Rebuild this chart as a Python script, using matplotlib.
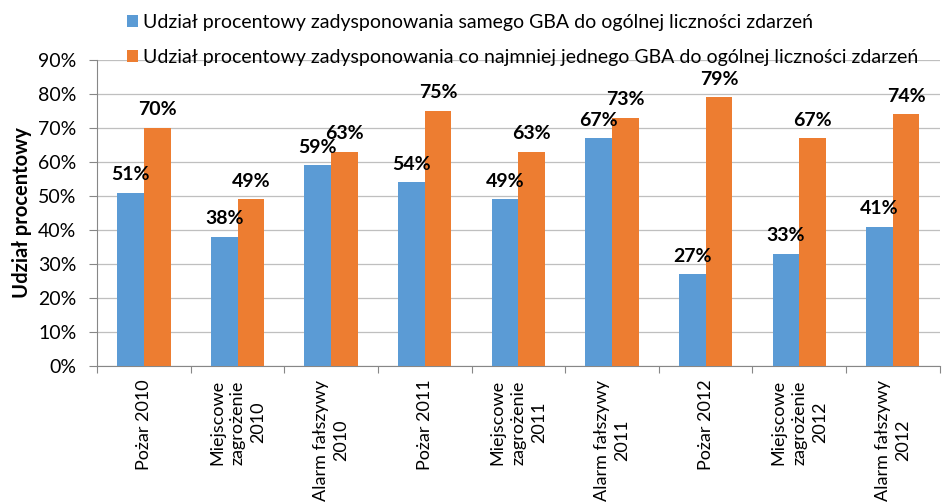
import matplotlib
matplotlib.use("Agg")
import matplotlib.pyplot as plt
import numpy as np

plt.rcParams['font.family'] = ['Lato', 'DejaVu Sans']

categories = ["Pożar 2010", "Miejscowe\nzagrożenie\n2010", "Alarm fałszywy\n2010",
              "Pożar 2011", "Miejscowe\nzagrożenie\n2011", "Alarm fałszywy\n2011",
              "Pożar 2012", "Miejscowe\nzagrożenie\n2012", "Alarm fałszywy\n2012"]
samo_gba = [51, 38, 59, 54, 49, 67, 27, 33, 41]
min_jeden_gba = [70, 49, 63, 75, 63, 73, 79, 67, 74]
series_names = ["Udział procentowy zadysponowania samego GBA do ogólnej liczności zdarzeń",
                "Udział procentowy zadysponowania co najmniej jednego GBA do ogólnej liczności zdarzeń"]

blue = '#5B9BD5'
orange = '#ED7D31'

fig = plt.figure(figsize=(9.52, 5.04), dpi=100)
ax = fig.add_axes([0.102, 0.274, 0.885, 0.607])

x = np.arange(len(categories))
w = 0.285
b1 = ax.bar(x - w / 2, samo_gba, w, color=blue, label=series_names[0], zorder=3)
b2 = ax.bar(x + w / 2, min_jeden_gba, w, color=orange, label=series_names[1], zorder=3)

for bars, vals in ((b1, samo_gba), (b2, min_jeden_gba)):
    for rect, v in zip(bars, vals):
        ax.text(rect.get_x() + rect.get_width() / 2, v + 2.8, f"{v}%",
                ha='center', va='bottom', fontsize=14, fontweight='bold')

ax.set_xlim(-0.5, len(categories) - 0.5)
ax.set_ylim(0, 90)
ax.set_yticks(np.arange(0, 91, 10))
ax.set_yticklabels([f"{t}%" for t in range(0, 91, 10)], fontsize=14)
ax.yaxis.grid(True, color='#BFBFBF', linewidth=0.9, zorder=0)
ax.set_xticks(np.arange(-0.5, len(categories), 1), minor=False)
ax.set_xticklabels([])
ax.set_xticks(x, minor=True)
ax.set_xticklabels(categories, minor=True)
ax.tick_params(axis='x', which='minor', length=0, pad=10)
ax.tick_params(axis='x', which='major', length=5, color='#878787')
ax.tick_params(axis='y', length=6, color='#878787', pad=9)
for lab in ax.get_xticklabels(minor=True):
    lab.set_rotation(90)
    lab.set_fontsize(13)
    lab.set_ha('center')
    lab.set_va('top')
    lab.set_multialignment('center')
    lab.set_linespacing(1.35)

for s in ['top', 'right']:
    ax.spines[s].set_visible(False)
for s in ['left', 'bottom']:
    ax.spines[s].set_color('#878787')

ax.set_ylabel("Udział procentowy", fontsize=14.5, fontweight='bold', labelpad=4)

fig.legend(loc='upper left', bbox_to_anchor=(0.119, 1.0), frameon=False, fontsize=14,
           handlelength=0.55, handleheight=0.55, handletextpad=0.3, labelspacing=0.95,
           borderaxespad=0.3)

fig.savefig("out.png", dpi=100)
